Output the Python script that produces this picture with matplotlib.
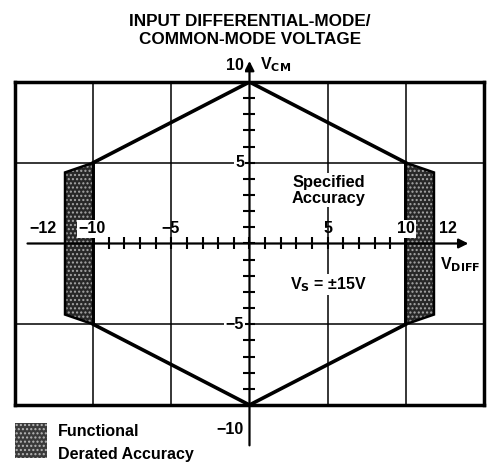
import matplotlib.pyplot as plt
from matplotlib.patches import Polygon, Rectangle

plt.rcParams['font.family'] = ['Liberation Sans', 'DejaVu Sans']
plt.rcParams['font.weight'] = 'bold'
plt.rcParams['mathtext.default'] = 'regular'

# data
hexagon = [(0, 10), (10, 5), (10, -5), (0, -10), (-10, -5), (-10, 5)]
derated_right = [(10, 5), (11.8, 4.4), (11.8, -4.4), (10, -5)]
derated_left = [(-10, 5), (-11.8, 4.4), (-11.8, -4.4), (-10, -5)]
grid_x = [-10, -5, 5, 10]
grid_y = [-5, 5]
x_ticks = list(range(-10, 11))
y_ticks = list(range(-10, 11))
x_labels = [(-13.2, '\u221212', False), (-10.1, '\u221210', True), (-5.05, '\u22125', False),
            (5.0, '5', False), (10.0, '10', True), (12.7, '12', False)]
y_labels = [(11.05, '10'), (5, '5'), (-5, '\u22125'), (-11.5, '\u221210')]

fig = plt.figure(figsize=(4.87, 4.67), dpi=100)
ax = fig.add_axes([0.0308, 0.1328, 0.963, 0.6916])
ax.set_xlim(-15, 15)
ax.set_ylim(-10, 10)
ax.set_xticks([])
ax.set_yticks([])
for s in ax.spines.values():
    s.set_linewidth(2.5)
    s.set_zorder(6)

for gx in grid_x:
    ax.axvline(gx, color='k', lw=1.1, zorder=1)
for gy in grid_y:
    ax.axhline(gy, color='k', lw=1.1, zorder=1)

ax.add_patch(Polygon(hexagon, closed=True, fill=False, edgecolor='k', lw=2.6, zorder=3))

plt.rcParams['hatch.linewidth'] = 1.0
for reg in (derated_right, derated_left):
    ax.add_patch(Polygon(reg, closed=True, facecolor='#282828', edgecolor='#a8a8a8',
                         hatch='....', lw=0, zorder=4))
    ax.add_patch(Polygon(reg, closed=True, fill=False, edgecolor='k', lw=1.8, zorder=4))

# axes with arrows
ax.annotate('', xy=(0, 11.3), xytext=(0, -12.5),
            arrowprops=dict(arrowstyle='-|>', lw=1.6, color='k', mutation_scale=14, shrinkA=0, shrinkB=0),
            annotation_clip=False, zorder=5)
ax.annotate('', xy=(14.0, 0), xytext=(-14.2, 0),
            arrowprops=dict(arrowstyle='-|>', lw=1.6, color='k', mutation_scale=14, shrinkA=0, shrinkB=0),
            annotation_clip=False, zorder=5)
ax.plot(x_ticks, [0] * len(x_ticks), ls='none', marker='|', ms=8.5, mew=1.5, color='k', zorder=5)
ax.plot([0] * len(y_ticks), y_ticks, ls='none', marker='_', ms=8.5, mew=1.5, color='k', zorder=5)

fs = 11.5
for x, t, bg in x_labels:
    kw = dict(bbox=dict(facecolor='white', edgecolor='none', pad=1)) if bg else {}
    ax.text(x, 0.9, t, ha='center', va='center', fontsize=fs, zorder=7, **kw)
for y, t in y_labels:
    ax.text(-0.35, y, t, ha='right', va='center', fontsize=fs, zorder=7, clip_on=False,
            bbox=dict(facecolor='white', edgecolor='none', pad=1))
ax.text(0.7, 11.05, r'V$_{\mathbf{CM}}$', ha='left', va='center', fontsize=fs, clip_on=False)
ax.text(13.5, -1.3, r'V$_{\mathbf{DIFF}}$', ha='center', va='center', fontsize=fs, zorder=7)
ax.text(5.05, 3.3, 'Specified\nAccuracy', ha='center', va='center', fontsize=11.8, linespacing=1.1,
        zorder=7, bbox=dict(facecolor='white', edgecolor='none', pad=1))
ax.text(5.05, -2.55, 'V$_{\\mathbf{S}}$ = \u00b115V', ha='center', va='center', fontsize=fs, zorder=7,
        bbox=dict(facecolor='white', edgecolor='none', pad=1))

fig.text(0.513, 0.935, 'INPUT DIFFERENTIAL-MODE/\nCOMMON-MODE VOLTAGE', ha='center', va='center',
         fontsize=12.3, fontweight='bold', linespacing=1.3)

# legend
fig.patches.append(Rectangle((15 / 487, 1 - 458 / 467), 32 / 487, 35 / 467, transform=fig.transFigure,
                             facecolor='#3a3a3a', edgecolor='#b8b8b8', hatch='....', lw=0))
fig.text(58 / 487, 1 - 431 / 467, 'Functional', ha='left', va='center', fontsize=fs)
fig.text(58 / 487, 1 - 455 / 467, 'Derated Accuracy', ha='left', va='center', fontsize=fs)

fig.savefig('out.png', dpi=100)
